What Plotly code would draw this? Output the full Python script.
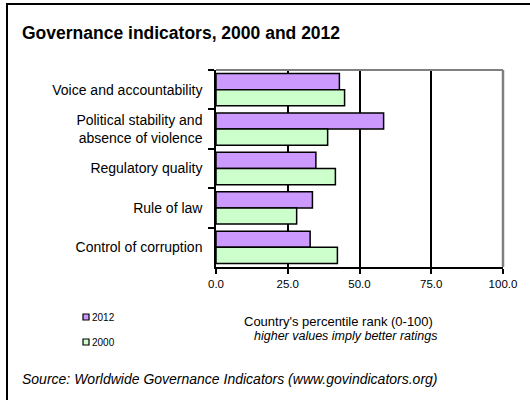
import plotly.graph_objects as go

# Governance indicator percentile ranks (0-100)
indicators = [
    "Voice and accountability",
    "Political stability and<br>absence of violence",
    "Regulatory quality",
    "Rule of law",
    "Control of corruption",
]
rank_2012 = [43.0, 58.4, 34.8, 33.6, 32.8]
rank_2000 = [44.8, 38.9, 41.6, 28.1, 42.3]
x_ticks = [0, 25, 50, 75, 100]

COLOR_2012 = "#CC99FF"
COLOR_2000 = "#CCFFCC"
FONT = "Liberation Sans, Arial, sans-serif"

# Figure geometry (pixels)
FIG_W, FIG_H = 530, 400
L, R, T, B = 216, 27, 70, 133
PW = FIG_W - L - R
PH = FIG_H - T - B


def px(x):
    return (x - L) / PW


def py(y):
    return (FIG_H - B - y) / PH


fig = go.Figure()
fig.add_trace(go.Bar(
    y=indicators, x=rank_2012, name="2012", orientation="h",
    marker=dict(color=COLOR_2012, line=dict(color="black", width=1.5)),
))
fig.add_trace(go.Bar(
    y=indicators, x=rank_2000, name="2000", orientation="h",
    marker=dict(color=COLOR_2000, line=dict(color="black", width=1.5)),
))

shapes = [
    # outer frame
    dict(type="rect", xref="paper", yref="paper",
         x0=px(7), x1=px(545), y0=py(4), y1=py(415),
         line=dict(color="black", width=2), fillcolor="rgba(0,0,0,0)", layer="below"),
    # grey top and right edges of the plot area
    dict(type="line", xref="paper", yref="paper", x0=0, x1=1, y0=1, y1=1,
         line=dict(color="#808080", width=2), layer="above"),
    dict(type="line", xref="paper", yref="paper", x0=1, x1=1, y0=0, y1=1,
         line=dict(color="#808080", width=2.5), layer="above"),
]

annotations = [
    dict(text="Country's percentile rank (0-100)", xref="paper", yref="paper",
         x=px(338), y=py(321), xanchor="center", yanchor="middle", showarrow=False,
         font=dict(family=FONT, size=13, color="black")),
    dict(text="<i>higher values imply better ratings</i>", xref="paper", yref="paper",
         x=px(345), y=py(336), xanchor="center", yanchor="middle", showarrow=False,
         font=dict(family=FONT, size=12.5, color="black")),
    dict(text="<i>Source: Worldwide Governance Indicators (www.govindicators.org)</i>",
         xref="paper", yref="paper", x=px(20), y=py(379), xanchor="left", yanchor="middle",
         showarrow=False, font=dict(family=FONT, size=14, color="black")),
]

# legend keys
for label, color, yc in [("2012", COLOR_2012, 317), ("2000", COLOR_2000, 342)]:
    shapes.append(dict(type="rect", xref="paper", yref="paper",
                       x0=px(83), x1=px(89), y0=py(yc + 3), y1=py(yc - 3),
                       line=dict(color="black", width=1.2), fillcolor=color))
    annotations.append(dict(text=label, xref="paper", yref="paper",
                            x=px(89.5), y=py(yc), xanchor="left", yanchor="middle",
                            showarrow=False, font=dict(family=FONT, size=10, color="black")))

fig.update_layout(
    width=FIG_W, height=FIG_H,
    margin=dict(l=L, r=R, t=T, b=B),
    paper_bgcolor="white", plot_bgcolor="white",
    barmode="group", bargap=0.18, bargroupgap=0,
    showlegend=False,
    title=dict(text="Governance indicators, 2000 and 2012",
               x=22 / FIG_W, y=1 - 33 / FIG_H, xanchor="left", yanchor="middle",
               xref="container", yref="container",
               font=dict(family=FONT, size=17.5, color="black", weight="bold")),
    xaxis=dict(range=[0, 100], tickvals=x_ticks, tickformat=".1f",
               ticks="outside", ticklen=5, tickwidth=1.5, tickcolor="black",
               showline=True, linecolor="black", linewidth=1.5,
               showgrid=True, gridcolor="black", gridwidth=1.5,
               zeroline=False, fixedrange=True,
               tickfont=dict(family=FONT, size=11.5, color="black")),
    yaxis=dict(type="category", autorange="reversed",
               tickson="boundaries", ticks="outside", ticklen=6, tickwidth=1.5,
               tickcolor="black", showline=True, linecolor="black", linewidth=1.5,
               showgrid=False, zeroline=False, ticklabelstandoff=9,
               tickfont=dict(family=FONT, size=14, color="black")),
    shapes=shapes,
    annotations=annotations,
)

fig.write_html("out.html")
